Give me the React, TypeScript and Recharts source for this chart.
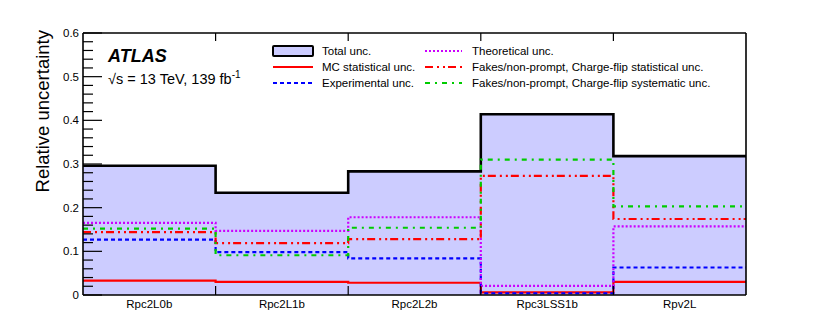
import { ComposedChart, Area, Line, XAxis, YAxis } from "recharts";

// signal regions (bins)
const bins = ["Rpc2L0b", "Rpc2L1b", "Rpc2L2b", "Rpc3LSS1b", "Rpv2L"];

// relative uncertainties per bin
const totalUnc = [0.296, 0.234, 0.283, 0.414, 0.318];
const mcStat = [0.033, 0.03, 0.028, 0.006, 0.03];
const expUnc = [0.127, 0.098, 0.084, 0.004, 0.063];
const theoUnc = [0.165, 0.147, 0.178, 0.021, 0.157];
const fakesStat = [0.144, 0.119, 0.128, 0.273, 0.174];
const fakesSyst = [0.152, 0.091, 0.154, 0.31, 0.203];

const yTicks = [0, 0.02, 0.04, 0.06, 0.08, 0.1, 0.12, 0.14, 0.16, 0.18, 0.2, 0.22, 0.24, 0.26, 0.28, 0.3, 0.32, 0.34, 0.36, 0.38, 0.4, 0.42, 0.44, 0.46, 0.48, 0.5, 0.52, 0.54, 0.56, 0.58, 0.6];
const yLabels = ["0", "0.1", "0.2", "0.3", "0.4", "0.5", "0.6"];
const edgeTicks = [1, 2, 3, 4];
const centerTicks = [0.5, 1.5, 2.5, 3.5, 4.5];

// step data: one point per bin edge, last value repeated at the right edge
const data = [0, 1, 2, 3, 4, 5].map((i) => {
    const k = Math.min(i, 4);
    return {
        x: i,
        total: totalUnc[k],
        mc: mcStat[k],
        exp: expUnc[k],
        theo: theoUnc[k],
        fstat: fakesStat[k],
        fsyst: fakesSyst[k],
    };
});

const FONT = "'Liberation Sans', Arial, Helvetica, sans-serif";

const isMajor = (v: number) => Math.round(v * 100) % 10 === 0;

const LeftTick = (props: any) => {
    const { x, y, payload } = props;
    const v = payload.value;
    const major = isMajor(v);
    return (
        <g>
            <line x1={x} x2={x + (major ? 19 : 10)} y1={y} y2={y} stroke="#000" strokeWidth={1.2} />
            {major && (
                <text x={x - 4} y={y} dy="0.35em" textAnchor="end" fontSize={11.5} fontFamily={FONT} fill="#000">
                    {yLabels[Math.round(v * 10)]}
                </text>
            )}
        </g>
    );
};

const RightTick = (props: any) => {
    const { x, y, payload } = props;
    const major = isMajor(payload.value);
    return <line x1={x} x2={x - (major ? 19 : 10)} y1={y} y2={y} stroke="#000" strokeWidth={1.2} />;
};

const BottomTick = (props: any) => {
    const { x, y, payload } = props;
    const v = payload.value;
    if (Number.isInteger(v)) {
        return <line x1={x} x2={x} y1={y} y2={y - 9} stroke="#000" strokeWidth={1.2} />;
    }
    return (
        <text x={x} y={y + 13} textAnchor="middle" fontSize={11.5} fontFamily={FONT} fill="#000">
            {bins[Math.floor(v)]}
        </text>
    );
};

const TopTick = (props: any) => {
    const { x, y } = props;
    return <line x1={x} x2={x} y1={y} y2={y + 8} stroke="#000" strokeWidth={1.2} />;
};

const legendLeft = [
    { label: "Total unc.", kind: "box" },
    { label: "MC statistical unc.", color: "#ff0000", dash: "" },
    { label: "Experimental unc.", color: "#0000ff", dash: "4 3" },
];
const legendRight = [
    { label: "Theoretical unc.", color: "#cc00ff", dash: "2 2" },
    { label: "Fakes/non-prompt, Charge-flip statistical unc.", color: "#ff0000", dash: "8 4 2 4 2 3" },
    { label: "Fakes/non-prompt, Charge-flip systematic unc.", color: "#00cc00", dash: "5 5 2 5" },
];

export default function App() {
    return (
        <div style={{ position: "relative", width: 830, height: 328, background: "#fff" }}>
            <style>{"body{margin:0}"}</style>
            <ComposedChart width={830} height={328} data={data} margin={{ top: 0, right: 0, bottom: 0, left: 0 }}>
                <Area
                    xAxisId="bottom"
                    yAxisId="left"
                    type="stepAfter"
                    dataKey="total"
                    stroke="#000"
                    strokeWidth={2.6}
                    fill="#ccccff"
                    fillOpacity={1}
                    isAnimationActive={false}
                />
                <Line xAxisId="bottom" yAxisId="left" type="stepAfter" dataKey="mc" stroke="#ff0000" strokeWidth={2.2} dot={false} activeDot={false} isAnimationActive={false} />
                <Line xAxisId="bottom" yAxisId="left" type="stepAfter" dataKey="exp" stroke="#0000ff" strokeWidth={2.2} strokeDasharray="4 3" dot={false} activeDot={false} isAnimationActive={false} />
                <Line xAxisId="bottom" yAxisId="left" type="stepAfter" dataKey="theo" stroke="#cc00ff" strokeWidth={2.2} strokeDasharray="2 2" dot={false} activeDot={false} isAnimationActive={false} />
                <Line xAxisId="bottom" yAxisId="left" type="stepAfter" dataKey="fstat" stroke="#ff0000" strokeWidth={2.2} strokeDasharray="8 4 2 4 2 3" dot={false} activeDot={false} isAnimationActive={false} />
                <Line xAxisId="bottom" yAxisId="left" type="stepAfter" dataKey="fsyst" stroke="#00cc00" strokeWidth={2.2} strokeDasharray="5 5 2 5" dot={false} activeDot={false} isAnimationActive={false} />

                <XAxis
                    xAxisId="bottom"
                    dataKey="x"
                    type="number"
                    domain={[0, 5]}
                    ticks={[...centerTicks, ...edgeTicks].sort()}
                    interval={0}
                    height={33}
                    tickSize={0}
                    tickMargin={0}
                    tickLine={false}
                    axisLine={{ stroke: "#000", strokeWidth: 1.6 }}
                    tick={BottomTick}
                />
                <XAxis
                    xAxisId="top"
                    orientation="top"
                    dataKey="x"
                    type="number"
                    domain={[0, 5]}
                    ticks={edgeTicks}
                    interval={0}
                    height={33}
                    tickSize={0}
                    tickMargin={0}
                    tickLine={false}
                    axisLine={{ stroke: "#000", strokeWidth: 1.6 }}
                    tick={TopTick}
                />
                <YAxis
                    yAxisId="left"
                    type="number"
                    domain={[0, 0.6]}
                    ticks={yTicks}
                    interval={0}
                    width={83}
                    tickSize={0}
                    tickMargin={0}
                    tickLine={false}
                    axisLine={{ stroke: "#000", strokeWidth: 1.6 }}
                    tick={LeftTick}
                    label={() => (
                        <text transform="translate(49,30) rotate(-90)" textAnchor="end" fontSize={18.5} fontFamily={FONT} fill="#000">
                            Relative uncertainty
                        </text>
                    )}
                />
                <YAxis
                    yAxisId="right"
                    orientation="right"
                    type="number"
                    domain={[0, 0.6]}
                    ticks={yTicks}
                    interval={0}
                    width={84}
                    tickSize={0}
                    tickMargin={0}
                    tickLine={false}
                    axisLine={{ stroke: "#000", strokeWidth: 1.6 }}
                    tick={RightTick}
                />
            </ComposedChart>

            <svg width={830} height={328} style={{ position: "absolute", left: 0, top: 0, pointerEvents: "none" }}>
                <text x={108} y={62} fontSize={18} fontWeight="bold" fontStyle="italic" fontFamily={FONT} fill="#000">
                    ATLAS
                </text>
                <text x={108} y={84} fontSize={14.5} fontFamily={FONT} fill="#000">
                    √s = 13 TeV, 139 fb
                    <tspan dy={-6} fontSize={10}>-1</tspan>
                </text>

                {legendLeft.map((item, i) => {
                    const cy = 51 + i * 16;
                    return (
                        <g key={item.label}>
                            {item.kind === "box" ? (
                                <rect x={273} y={cy - 5} width={40} height={10} fill="#ccccff" stroke="#000" strokeWidth={2} rx={1} />
                            ) : (
                                <line x1={273} x2={313} y1={cy} y2={cy} stroke={item.color} strokeWidth={2.2} strokeDasharray={item.dash} />
                            )}
                            <text x={322} y={cy} dy="0.35em" fontSize={11.5} fontFamily={FONT} fill="#000">
                                {item.label}
                            </text>
                        </g>
                    );
                })}
                {legendRight.map((item, i) => {
                    const cy = 51 + i * 16;
                    return (
                        <g key={item.label}>
                            <line x1={425} x2={462} y1={cy} y2={cy} stroke={item.color} strokeWidth={2.2} strokeDasharray={item.dash} />
                            <text x={472} y={cy} dy="0.35em" fontSize={11.5} fontFamily={FONT} fill="#000">
                                {item.label}
                            </text>
                        </g>
                    );
                })}
            </svg>
        </div>
    );
}
